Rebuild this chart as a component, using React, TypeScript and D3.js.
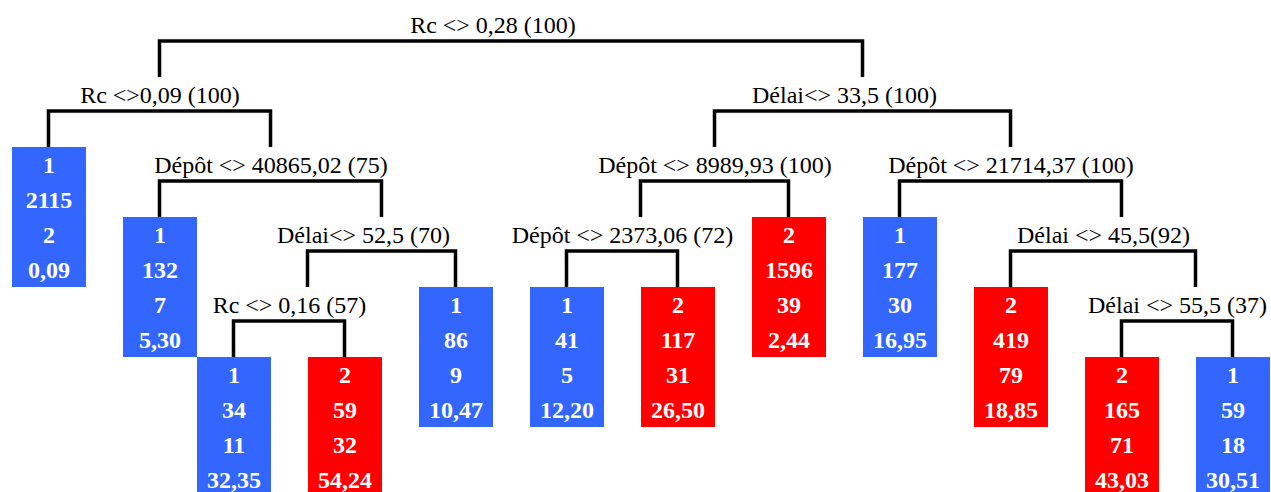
import React from "react";
import * as d3 from "d3";

// ---- data ----
// internal split nodes: id, label
const splitIds = ["n0", "n1", "n2", "n3", "n4", "n5", "n6", "n7", "n8", "n9", "n10"];
const splitLabels = [
  "Rc <> 0,28 (100)",
  "Rc <>0,09 (100)",
  "Dépôt <> 40865,02 (75)",
  "Délai<> 52,5 (70)",
  "Rc <> 0,16 (57)",
  "Délai<> 33,5 (100)",
  "Dépôt <> 8989,93 (100)",
  "Dépôt <> 2373,06 (72)",
  "Dépôt <> 21714,37 (100)",
  "Délai <> 45,5(92)",
  "Délai <> 55,5 (37)",
];
// leaves: id, class, count, misclassified, value
const leafIds = ["L0", "L1", "L2", "L3", "L4", "L5", "L6", "L7", "L8", "L9", "L10", "L11"];
const leafClass = [1, 1, 1, 2, 1, 1, 2, 2, 1, 2, 2, 1];
const leafCount = [2115, 132, 34, 59, 86, 41, 117, 1596, 177, 419, 165, 59];
const leafErr = [2, 7, 11, 32, 9, 5, 31, 39, 30, 79, 71, 18];
const leafValue = ["0,09", "5,30", "32,35", "54,24", "10,47", "12,20", "26,50", "2,44", "16,95", "18,85", "43,03", "30,51"];
// tree structure: parent -> [left child, right child]
const treeEdges: [string, string, string][] = [
  ["n0", "n1", "n5"],
  ["n1", "L0", "n2"],
  ["n2", "L1", "n3"],
  ["n3", "n4", "L4"],
  ["n4", "L2", "L3"],
  ["n5", "n6", "n8"],
  ["n6", "n7", "L7"],
  ["n7", "L5", "L6"],
  ["n8", "L8", "n9"],
  ["n9", "L9", "n10"],
  ["n10", "L10", "L11"],
];

// ---- layout (grid columns) ----
const anchorCol: Record<string, number> = {
  n0: 13, n1: 4, n2: 7, n3: 10, n4: 8, n5: 23, n6: 19, n7: 17, n8: 27, n9: 30, n10: 32,
  L0: 1, L1: 4, L2: 6, L3: 9, L4: 12, L5: 15, L6: 18, L7: 21, L8: 24, L9: 27, L10: 30, L11: 33,
};
const labelCol: Record<string, number> = {
  n0: 13, n1: 4, n2: 7, n3: 9.5, n4: 7.5, n5: 22.5, n6: 19, n7: 16.5, n8: 27, n9: 29.5, n10: 31.5,
};

const W = 1271;
const H = 492;
const BLUE = "#3366ff";
const RED = "#ff0000";
const FONT = "Liberation Serif, Times New Roman, serif";

export default function App() {
  const x = d3.scaleLinear().domain([0, 1]).range([12, 49]);
  const y = d3.scaleLinear().domain([0, 1]).range([7, 42]);

  const childMap = new Map(treeEdges.map((e) => [e[0], [e[1], e[2]]]));
  type N = { id: string; children?: N[] };
  const build = (id: string): N => {
    const ch = childMap.get(id);
    return ch ? { id, children: ch.map(build) } : { id };
  };
  const root = d3.hierarchy<N>(build("n0"));
  const nodes = root.descendants();

  const brackets: React.ReactNode[] = [];
  const labels: React.ReactNode[] = [];
  const boxes: React.ReactNode[] = [];

  nodes.forEach((nd) => {
    const id = nd.data.id;
    const row = nd.depth * 2;
    const top = y(row);
    if (nd.children) {
      const si = splitIds.indexOf(id);
      labels.push(
        <text
          key={"t" + id}
          x={x(labelCol[id])}
          y={top + 26}
          textAnchor="middle"
          style={{ fontFamily: FONT, fontSize: "24px" }}
          fill="#000"
        >
          {splitLabels[si]}
        </text>
      );
      const yb = y(row + 1) - 1;
      const yc = y(row + 2);
      const [l, r] = nd.children;
      const xl = x(anchorCol[l.data.id]) - 0.5;
      const xr = x(anchorCol[r.data.id]) - 0.5;
      const p = d3.path();
      p.moveTo(xl, yc);
      p.lineTo(xl, yb);
      p.lineTo(xr, yb);
      p.lineTo(xr, yc);
      brackets.push(
        <path
          key={"b" + id}
          d={p.toString()}
          fill="none"
          stroke="#000"
          strokeWidth={3.5}
          strokeLinejoin="miter"
        />
      );
    } else {
      const li = leafIds.indexOf(id);
      const cx = x(anchorCol[id]);
      const vals = [String(leafClass[li]), String(leafCount[li]), String(leafErr[li]), leafValue[li]];
      boxes.push(
        <g key={"L" + id}>
          <rect
            x={cx - 37}
            y={top}
            width={74}
            height={y(4) - y(0)}
            fill={leafClass[li] === 1 ? BLUE : RED}
          />
          {vals.map((v, k) => (
            <text
              key={k}
              x={cx}
              y={y(row + k) + 25.5}
              textAnchor="middle"
              style={{ fontFamily: FONT, fontSize: "24px", fontWeight: 700 }}
              fill="#fff"
            >
              {v}
            </text>
          ))}
        </g>
      );
    }
  });

  return (
    <svg
      width={W}
      height={H}
      viewBox={`0 0 ${W} ${H}`}
      style={{ position: "absolute", left: 0, top: 0, background: "#fff" }}
    >
      <rect x={0} y={0} width={W} height={H} fill="#fff" />
      {boxes}
      {brackets}
      {labels}
    </svg>
  );
}
